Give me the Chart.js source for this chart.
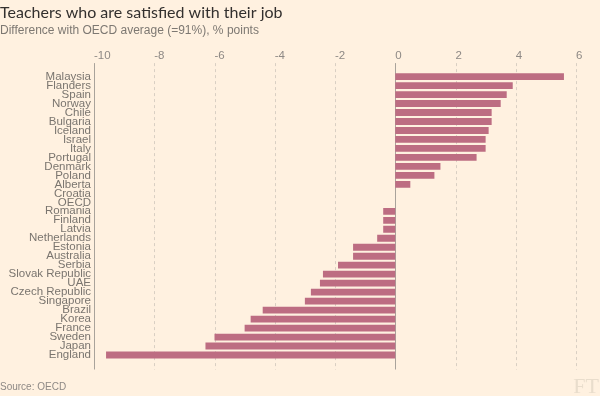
<!DOCTYPE html>
<html>
<head>
<meta charset="utf-8">
<script src="https://cdn.jsdelivr.net/npm/chart.js@4"></script>
<style>
  html, body { margin: 0; padding: 0; background: #fff1e0; }
  #wrap { width: 600px; height: 396px; position: relative; }
</style>
</head>
<body>
<div id="wrap"><canvas id="teachersChart"></canvas></div>
<script>
const countries = ['Malaysia', 'Flanders', 'Spain', 'Norway', 'Chile', 'Bulgaria', 'Iceland', 'Israel',
    'Italy', 'Portugal', 'Denmark', 'Poland', 'Alberta', 'Croatia', 'OECD', 'Romania', 'Finland',
    'Latvia', 'Netherlands', 'Estonia', 'Australia', 'Serbia', 'Slovak Republic', 'UAE',
    'Czech Republic', 'Singapore', 'Brazil', 'Korea', 'France', 'Sweden', 'Japan', 'England'];
const difference = [5.6, 3.9, 3.7, 3.5, 3.2, 3.2, 3.1, 3.0, 3.0, 2.7, 1.5, 1.3, 0.5, 0, 0,
    -0.4, -0.4, -0.4, -0.6, -1.4, -1.4, -1.9, -2.4, -2.5, -2.8, -3.0, -4.4, -4.8, -5.0, -6.0, -6.3, -9.6];
const axisMin = -10;
const axisMax = 6;
const axisStep = 2;

const labelFont = "'Liberation Sans', Arial, sans-serif";

// vertical guide lines run a little past the bars, top and bottom
const guideLines = {
    id: 'guideLines',
    beforeDatasetsDraw(chart) {
        const { ctx, chartArea, scales } = chart;
        const x = scales.x;
        ctx.save();
        x.ticks.forEach(t => {
            const px = Math.round(x.getPixelForValue(t.value)) + 0.5;
            const solid = t.value === 0 || t.value === axisMin;
            ctx.beginPath();
            ctx.lineWidth = 1;
            ctx.strokeStyle = solid ? '#a9a39b' : '#d9cfc3';
            ctx.setLineDash(solid ? [] : [3, 3]);
            ctx.moveTo(px, chartArea.top - 9);
            ctx.lineTo(px, chartArea.bottom + 10);
            ctx.stroke();
        });
        ctx.restore();
    }
};

const footer = {
    id: 'footer',
    afterDraw(chart) {
        const ctx = chart.ctx;
        ctx.save();
        ctx.fillStyle = '#8e8985';
        ctx.font = "10px " + labelFont;
        ctx.textBaseline = 'alphabetic';
        ctx.textAlign = 'left';
        ctx.fillText('Source: OECD', 0, 390);
        ctx.fillStyle = '#e9ddcc';
        ctx.font = "22px 'Liberation Serif', serif";
        ctx.textAlign = 'right';
        ctx.fillText('FT', 599, 393);
        ctx.restore();
    }
};

const ctx = document.getElementById('teachersChart').getContext('2d');

new Chart(ctx, {
    type: 'bar',
    data: {
        labels: countries,
        datasets: [{
            data: difference,
            backgroundColor: '#bd6d82',
            barPercentage: 0.76,
            categoryPercentage: 1
        }]
    },
    options: {
        indexAxis: 'y',
        responsive: true,
        maintainAspectRatio: false,
        animation: false,
        layout: { padding: { left: 0, right: 24, top: 0, bottom: 36.5 } },
        plugins: {
            legend: { display: false },
            tooltip: { enabled: false },
            title: {
                display: true,
                text: 'Teachers who are satisfied with their job',
                align: 'start',
                color: '#33302e',
                font: { family: "Lato, " + labelFont, size: 16, weight: 'normal' },
                padding: { top: 3, bottom: 0 }
            },
            subtitle: {
                display: true,
                text: 'Difference with OECD average (=91%), % points',
                align: 'start',
                color: '#7d7872',
                font: { family: labelFont, size: 12 },
                padding: { top: 1, bottom: 0 }
            }
        },
        scales: {
            x: {
                position: 'top',
                min: axisMin,
                max: axisMax,
                grid: { display: false },
                border: { display: false },
                afterFit: (scale) => { scale.height = 34.5; },
                ticks: {
                    stepSize: axisStep,
                    align: 'start',
                    maxRotation: 0,
                    padding: 1,
                    color: '#8e8985',
                    font: { family: labelFont, size: 11.5 }
                }
            },
            y: {
                grid: { display: false, drawTicks: false },
                border: { display: false },
                afterFit: (scale) => { scale.width = 94; },
                ticks: {
                    autoSkip: false,
                    padding: 3,
                    color: '#7a756f',
                    font: { family: labelFont, size: 11.5 }
                }
            }
        }
    },
    plugins: [guideLines, footer]
});
</script>
</body>
</html>
